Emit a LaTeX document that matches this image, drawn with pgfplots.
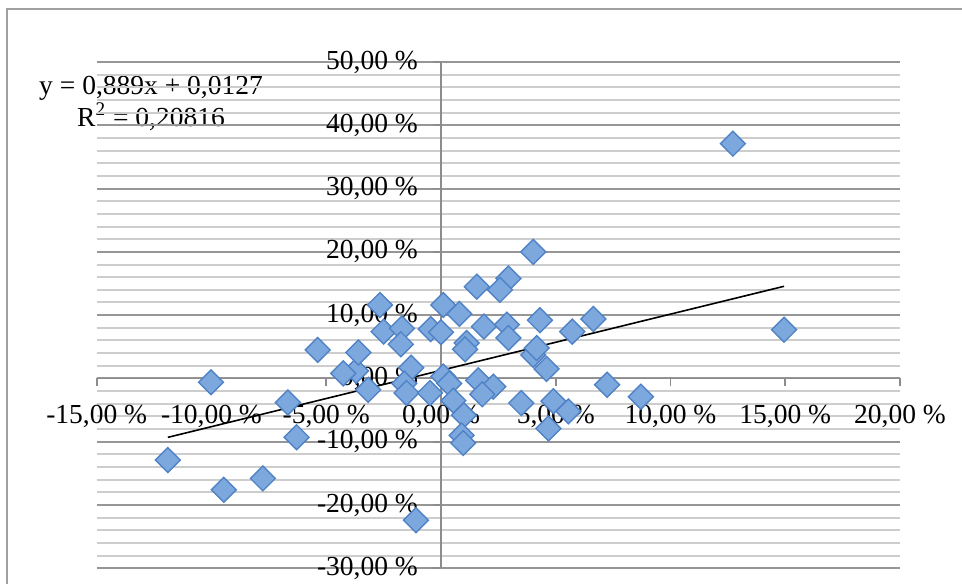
\documentclass[border=0pt]{standalone}
\usepackage{pgfplots}
\pgfplotsset{compat=1.18}
\usepackage{fontspec}
\setmainfont{Liberation Serif}
\definecolor{majgrid}{RGB}{150,150,150}
\definecolor{mingrid}{RGB}{205,205,205}
\definecolor{axisgray}{RGB}{140,140,140}
\definecolor{framegray}{RGB}{160,160,160}
\definecolor{markfill}{RGB}{125,168,222}
\definecolor{markdraw}{RGB}{80,130,198}
\pgfplotstableread{
x y
12.72 37.1
14.95 7.7
4.02 20.0
2.94 15.8
2.57 14.0
1.56 14.5
4.31 9.2
1.87 8.2
2.87 8.5
2.94 6.4
5.72 7.4
6.64 9.4
4.02 3.7
4.17 4.8
4.60 1.5
7.24 -1.0
8.71 -2.9
3.50 -3.9
4.90 -3.6
5.55 -5.2
4.68 -7.9
1.62 -0.3
2.28 -1.3
1.80 -2.5
0.10 0.3
0.36 -0.8
0.54 -3.5
1.00 -5.8
0.90 -9.0
0.97 -10.2
1.12 5.6
1.05 4.6
0.80 10.2
0.10 11.6
-0.45 7.8
0.00 7.3
-2.66 11.6
-2.50 7.4
-1.70 7.9
-1.75 5.4
-1.30 1.7
-1.60 -0.8
-1.50 -2.3
-0.48 -2.3
-3.17 -1.8
-3.70 1.2
-4.26 0.8
-3.60 4.1
-5.37 4.5
-6.67 -3.8
-6.29 -9.3
-7.76 -15.8
-9.46 -17.6
-11.90 -12.9
-10.02 -0.6
-1.09 -22.4
}\datatable
\begin{document}
\begin{tikzpicture}[font=\fontsize{13.75}{16}\selectfont]
\path[use as bounding box] (0,0) rectangle (481pt,291.5pt);
\draw[framegray, line width=1pt] (3.25pt,-2pt) -- (3.25pt,287pt) -- (483pt,287pt);
\node[align=center] at (75.5pt,240pt) {y = 0,889x + 0,0127\\R\textsuperscript{2} = 0,20816};
\begin{axis}[
  at={(48.35pt,7.35pt)}, anchor=south west,
  scale only axis, width=401.65pt, height=253.15pt,
  xmin=-15, xmax=20, ymin=-30, ymax=50,
  axis lines=middle, axis line style={-, axisgray, line width=0.9pt},
  hide obscured x ticks=false, hide obscured y ticks=false,
  xtick={-15,-10,...,20}, ytick={-30,-20,...,50},
  xticklabels={{-15,00 \%},{-10,00 \%},{-5,00 \%},{0,00 \%},{5,00 \%},{10,00 \%},{15,00 \%},{20,00 \%}},
  yticklabels={{-30,00 \%},{-20,00 \%},{-10,00 \%},{0,00 \%},{10,00 \%},{20,00 \%},{30,00 \%},{40,00 \%},{50,00 \%}},
  minor y tick num=4,
  ymajorgrids, yminorgrids,
  major grid style={majgrid, line width=1pt},
  minor grid style={mingrid, line width=1pt},
  tick style={axisgray, line width=0.9pt},
  major tick length=4pt, minor tick length=0pt,
  tick align=outside,
  xticklabel style={anchor=north, yshift=-6pt},
  yticklabel style={anchor=east, xshift=-4pt},
  clip=false,
]
\addplot[only marks, mark=square*, mark size=4.4pt,
  mark options={rotate=45, fill=markfill, draw=markdraw, line width=0.7pt}]
  table[x=x,y=y] {\datatable};
\addplot[black, line width=0.8pt, no marks] coordinates {(-11.9,-9.309) (14.95,14.561)};
\end{axis}
\end{tikzpicture}
\end{document}
